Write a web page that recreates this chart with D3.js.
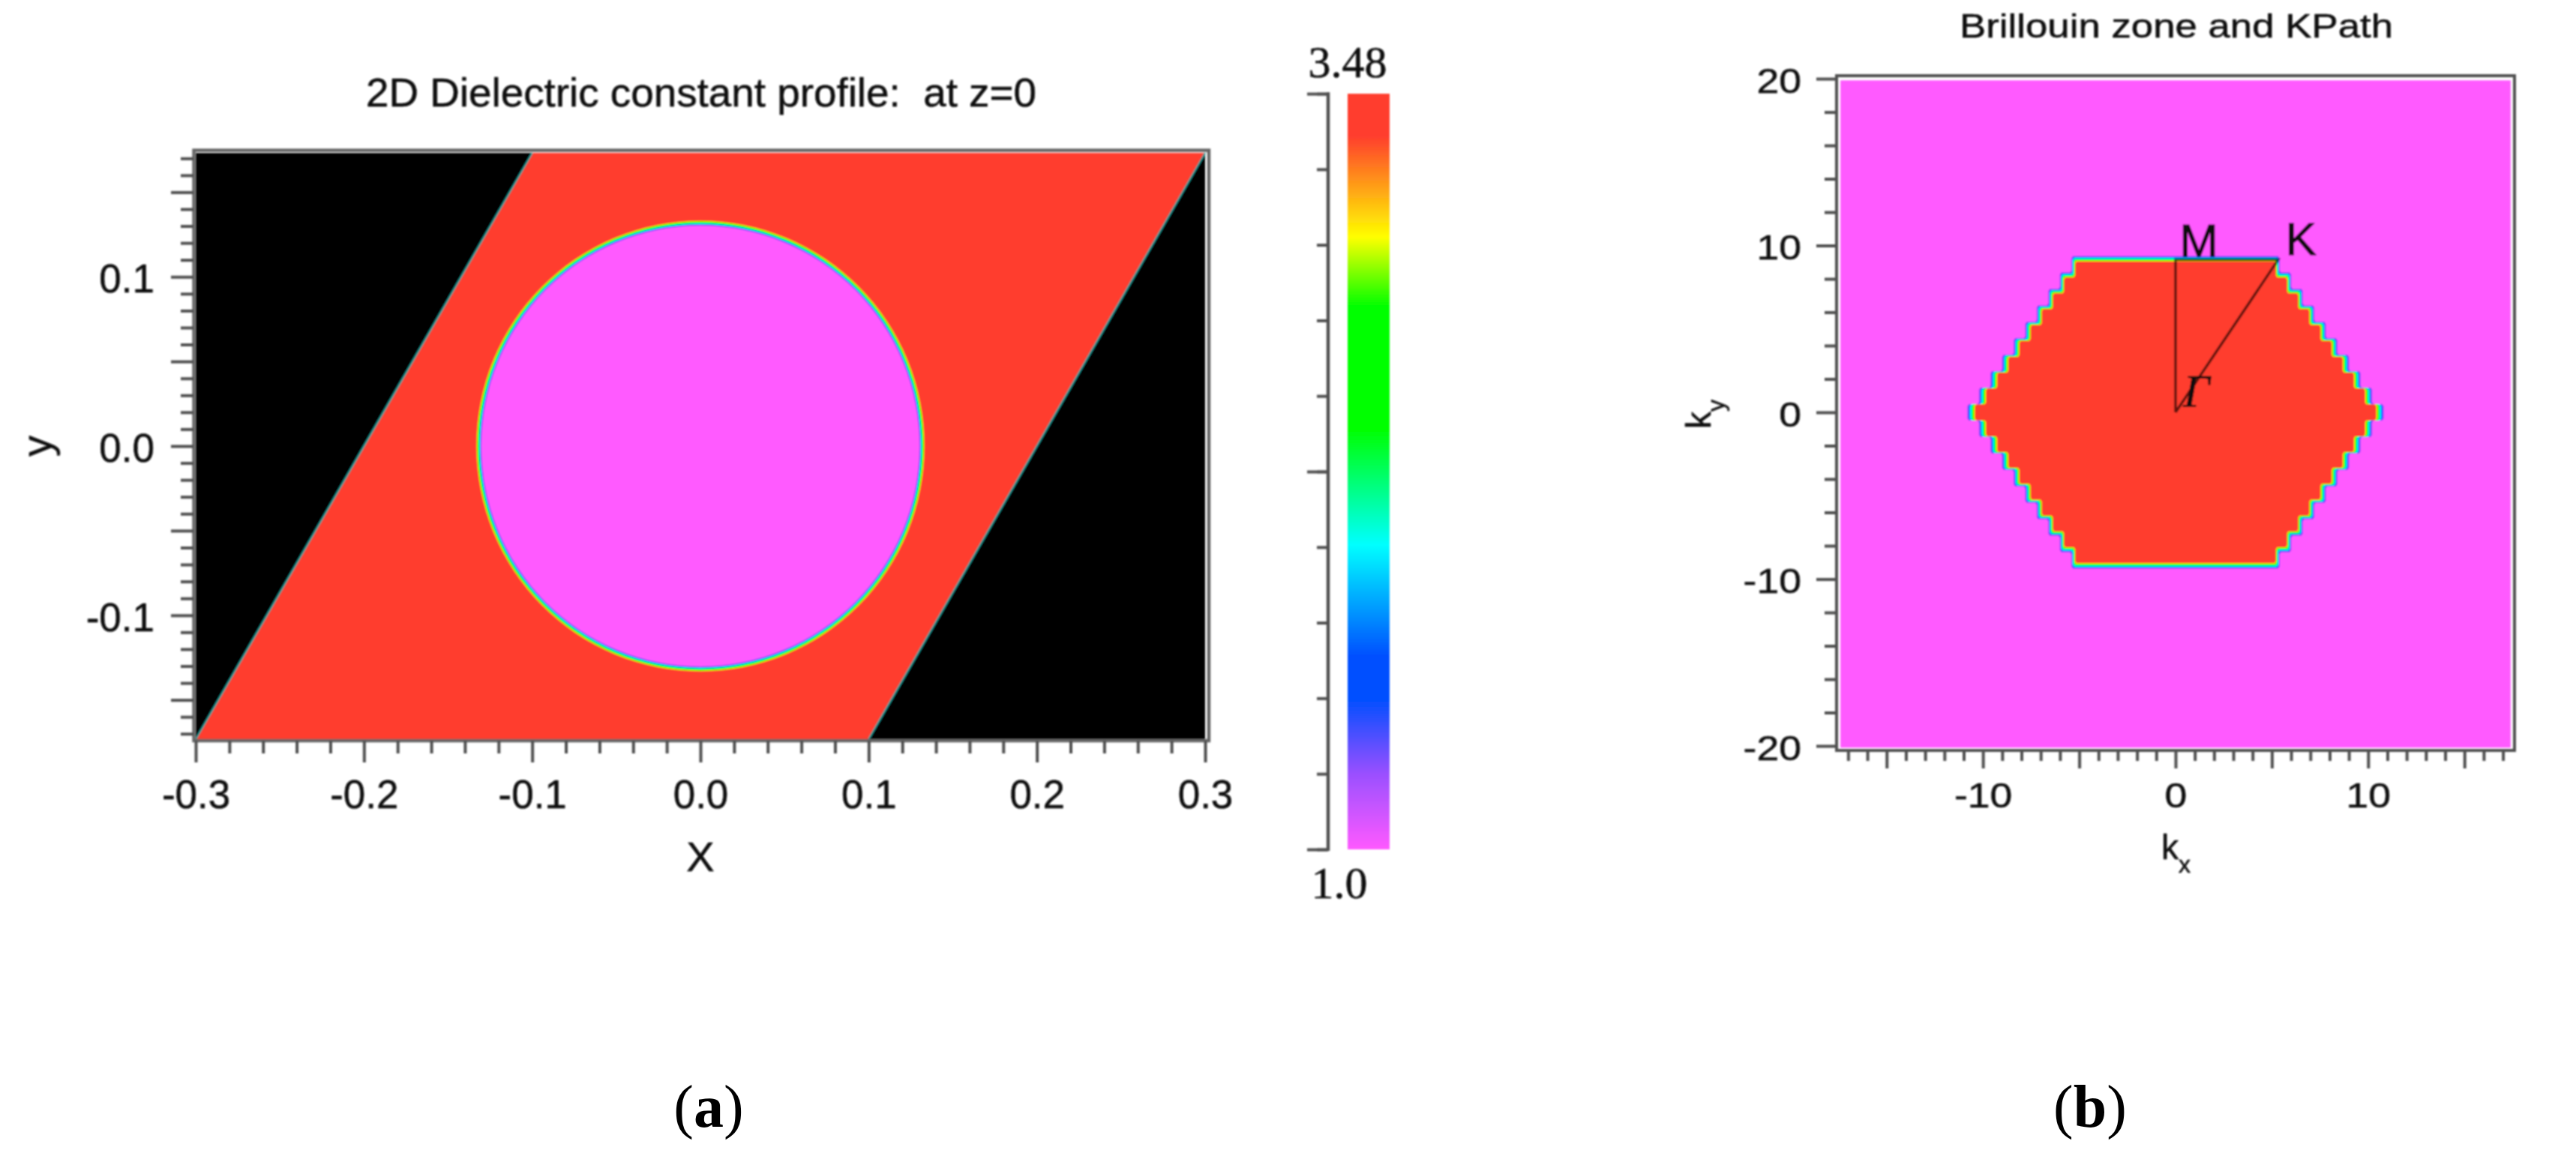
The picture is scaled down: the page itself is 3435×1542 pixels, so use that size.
<!DOCTYPE html>
<html><head><meta charset="utf-8">
<script src="https://cdn.jsdelivr.net/npm/d3@7"></script>
<style>
html,body{margin:0;padding:0;background:#fff}
svg{display:block}
text{font-family:"Liberation Sans",Arial,sans-serif;fill:#0c0c0c;white-space:pre;stroke:#0c0c0c;stroke-width:0.5px}
.serif{font-family:"Liberation Serif","Times New Roman",serif}
</style></head><body>
<svg id="c" width="3435" height="1542" viewBox="0 0 3435 1542"></svg>
<script>
// ---------- data ----------
const cbValues=[3.48,3.344,3.009,2.781,2.381,2.0,1.635,1.496,1.248,1.0];
const cbColors=["#ff3c2e","#ff3c2e","#ffff00","#00ff00","#00ff00","#00ffff","#0050ff","#0050ff","#9a50ff","#ff5aff"];
const cbTicks=[1.0,1.248,1.496,1.744,1.992,2.24,2.488,2.736,2.984,3.232,3.48];
const cbMajor=[1.0,2.24,3.48];
const edgeEps=[1.25,1.5,1.65,2.0,2.4,2.8,3.05,3.3];

const profX=[-0.3,0.3], profY=[-0.1732,0.1732];
const holeRadius=0.132;
const cellLeft=[[-0.3,-0.1732],[-0.1,0.1732],[-0.3,0.1732]];
const cellRight=[[0.1,-0.1732],[0.3,0.1732],[0.3,-0.1732]];
const profXLabels=[-0.3,-0.2,-0.1,0,0.1,0.2,0.3];
const profXMinor=[-0.28,-0.26,-0.24,-0.22,-0.18,-0.16,-0.14,-0.12,-0.08,-0.06,-0.04,-0.02,0.02,0.04,0.06,0.08,0.12,0.14,0.16,0.18,0.22,0.24,0.26,0.28];
const profYLabels=[-0.1,0,0.1];
const profYMajor=[-0.15,-0.1,-0.05,0,0.05,0.1,0.15];
const profYMinor=[-0.17,-0.16,-0.14,-0.13,-0.12,-0.11,-0.09,-0.08,-0.07,-0.06,-0.04,-0.03,-0.02,-0.01,0.01,0.02,0.03,0.04,0.06,0.07,0.08,0.09,0.11,0.12,0.13,0.14,0.16,0.17];

const bzX=[-17.6,17.6], bzY=[-20,20];
const bzFill=[[-17.4,-20.1],[17.4,19.9]];
const hexagon=[[-10.6,0],[-5.0,9.2],[5.0,9.2],[10.6,0],[5.0,-9.2],[-5.0,-9.2]];
const kPath=[[0,0],[0,9.15],[5.33,9.15],[0,0]];
const kLabels=[{t:"M",x:0.2,y:9.35},{t:"K",x:5.7,y:9.45}];
const bzXLabels=[-10,0,10];
const bzXMajor=[-15,-10,-5,0,5,10,15];
const bzXMinor=[-17,-16,-14,-13,-12,-11,-9,-8,-7,-6,-4,-3,-2,-1,1,2,3,4,6,7,8,9,11,12,13,14,16,17];
const bzYLabels=[-20,-10,0,10,20];
const bzYMinor=[-18,-16,-14,-12,-8,-6,-4,-2,2,4,6,8,12,14,16,18];

// ---------- set up ----------
const svg=d3.select("#c");
const defs=svg.append("defs");
const blur=defs.append("filter").attr("id","soft").attr("filterUnits","userSpaceOnUse")
  .attr("x",0).attr("y",0).attr("width",3435).attr("height",1542);
blur.append("feGaussianBlur").attr("stdDeviation",1.1);
const chart=svg.append("g").attr("filter","url(#soft)");
const tickColor="#505050";
const eps=d3.scaleLinear().domain(cbValues).range(cbColors);

function axisStyle(g,sw){
  g.select(".domain").remove();
  g.selectAll("line").attr("stroke",tickColor).attr("stroke-width",sw);
}
function stretch(sel,k){
  sel.each(function(){this.setAttribute("textLength",this.getComputedTextLength()*k);
    this.setAttribute("lengthAdjust","spacingAndGlyphs");});
}
function fitText(parent,str,x0,x1,baseline,size){
  return parent.append("text").attr("x",x0).attr("y",baseline).attr("font-size",size)
    .attr("textLength",x1-x0).attr("lengthAdjust","spacingAndGlyphs").text(str);
}
function xAxis(parent,scale,y,vals,len,fmt,size,base,k){
  const g=parent.append("g").attr("transform",`translate(0,${y})`)
    .call(d3.axisBottom(scale).tickValues(vals).tickSize(len).tickFormat(fmt||""));
  axisStyle(g,4);
  if(fmt){const t=g.selectAll("text").attr("font-size",size).attr("y",base).attr("dy",0)
      .attr("fill","#0c0c0c");stretch(t,k);}
  return g;
}
function yAxis(parent,scale,x,vals,len,fmt,size,base,right,k){
  const g=parent.append("g").attr("transform",`translate(${x},0)`)
    .call(d3.axisLeft(scale).tickValues(vals).tickSize(len).tickFormat(fmt||""));
  axisStyle(g,4);
  if(fmt){const t=g.selectAll("text").attr("font-size",size).attr("x",right).attr("dy",base)
      .attr("fill","#0c0c0c");stretch(t,k);}
  return g;
}

// ---------- panel (a) ----------
const ax=d3.scaleLinear().domain(profX).range([261,1607]);
const ay=d3.scaleLinear().domain(profY).range([986,204]);
const a=chart.append("g");
a.append("rect").attr("x",ax(profX[0])).attr("y",ay(profY[1]))
  .attr("width",ax(profX[1])-ax(profX[0])).attr("height",ay(profY[0])-ay(profY[1]))
  .attr("fill",eps(3.48));
const tri=d3.line().x(d=>ax(d[0])).y(d=>ay(d[1]));
[cellLeft,cellRight].forEach(p=>{
  a.append("path").attr("d",tri(p)+"Z").attr("fill","#000").attr("stroke","none");
  a.append("path").attr("d",tri(p.slice(0,2))).attr("stroke","#1f9a96").attr("stroke-width",2.4).attr("fill","none");
});
const rOff=d3.scaleLinear().domain([1,3.48]).range([-4,3.6]);
const hole=edgeEps.slice().reverse().concat([1.0]);
a.selectAll("ellipse").data(hole).join("ellipse")
  .attr("cx",ax(0)).attr("cy",ay(0))
  .attr("rx",d=>ax(holeRadius)-ax(0)+rOff(d))
  .attr("ry",d=>ay(0)-ay(holeRadius)+rOff(d))
  .attr("fill",d=>eps(d));
a.append("rect").attr("x",258.5).attr("y",200.5).attr("width",1353.5).attr("height",787.5)
  .attr("fill","none").attr("stroke","#666").attr("stroke-width",4.5);
const f1=d=>d.toFixed(1);
xAxis(a,ax,988,profXMinor,17);
xAxis(a,ax,988,profXLabels,29,f1,54,90,0.98);
yAxis(a,ay,258,profYMinor,17);
yAxis(a,ay,258,profYMajor,30);
yAxis(a,ay,206,profYLabels,0,f1,53,"0.39em",0,1);
fitText(a,"2D Dielectric constant profile:  at z=0",488,1382,142,53);
a.append("text").attr("x",ax(0)).attr("y",1162).attr("text-anchor","middle").attr("font-size",56).text("X");
a.append("text").attr("transform",`translate(68,${ay(0)}) rotate(-90)`).attr("text-anchor","middle").attr("font-size",56).text("y");

// ---------- colour bar ----------
const cb=d3.scaleLinear().domain([1.0,3.48]).range([1133,125]);
const grad=defs.append("linearGradient").attr("id","cbGrad").attr("x1",0).attr("x2",0).attr("y1",0).attr("y2",1);
grad.selectAll("stop").data(cbValues).join("stop")
  .attr("offset",d=>(cb(d)-cb(3.48))/(cb(1.0)-cb(3.48))).attr("stop-color",d=>eps(d));
const bar=chart.append("g");
bar.append("rect").attr("x",1797).attr("y",cb(3.48)).attr("width",56).attr("height",cb(1.0)-cb(3.48)).attr("fill","url(#cbGrad)");
yAxis(bar,cb,1771,cbTicks,15);
yAxis(bar,cb,1771,cbMajor,28);
bar.append("line").attr("x1",1771).attr("x2",1771).attr("y1",cb(3.48)-2).attr("y2",cb(1.0)+2).attr("stroke",tickColor).attr("stroke-width",4.5);
bar.append("text").attr("class","serif").attr("x",1797).attr("y",103).attr("text-anchor","middle").attr("font-size",60).text("3.48");
bar.append("text").attr("class","serif").attr("x",1786).attr("y",1198).attr("text-anchor","middle").attr("font-size",60).text("1.0");

// ---------- panel (b) ----------
const bx=d3.scaleLinear().domain(bzX).range([2449,3353]);
const by=d3.scaleLinear().domain(bzY).range([995,105]);
const b=chart.append("g");
b.append("rect").attr("x",bx(bzFill[0][0])).attr("y",by(bzFill[1][1]))
  .attr("width",bx(bzFill[1][0])-bx(bzFill[0][0])).attr("height",by(bzFill[0][1])-by(bzFill[1][1]))
  .attr("fill",eps(1.0));

// hexagon rasterised on a coarse k-grid, which gives the stepped edge
const cellX=0.589,cellY=0.968,half=30,fine=4,size=half*2*fine;
const grid=new Float64Array(size*size);
for(let j=0;j<size;j++)for(let i=0;i<size;i++){
  const cx=(Math.floor(i/fine)-half+0.5)*cellX, cy=(Math.floor(j/fine)-half)*cellY;
  grid[j*size+i]=d3.polygonContains(hexagon,[cx,cy])?1:0;
}
const hexShape=d3.contours().size([size,size]).smooth(false).thresholds([0.5])(grid)[0];
const grow=d3.scaleLinear().domain([1,3.48]).range([1.024,0.98]);
const layer=k=>d3.geoPath(d3.geoTransform({point(px,py){
  this.stream.point(bx((px/fine-half)*cellX*k),by((py/fine-half-0.5)*cellY*k));
}}));
b.selectAll("path.hex").data(edgeEps.concat([3.48])).join("path").attr("class","hex")
  .attr("d",d=>layer(grow(d))(hexShape)).attr("fill",d=>eps(d));

const pathLine=d3.line().x(d=>bx(d[0])).y(d=>by(d[1]));
b.append("path").attr("d",pathLine(kPath)).attr("fill","none").attr("stroke","#000").attr("stroke-opacity",0.62).attr("stroke-width",3.6);

b.append("rect").attr("x",2449).attr("y",101).attr("width",904).attr("height",900)
  .attr("fill","none").attr("stroke",tickColor).attr("stroke-width",4);
const fInt=d=>String(d);
xAxis(b,bx,1001,bzXMinor,14);
xAxis(b,bx,1001,bzXMajor,24);
const xl=xAxis(b,bx,1001,bzXLabels,0,fInt,47,76,1.14);
xl.selectAll("line").remove();
yAxis(b,by,2449,bzYMinor,16);
yAxis(b,by,2449,bzYLabels,27);
yAxis(b,by,2402,bzYLabels,0,fInt,47,"0.39em",0,1.14);
fitText(b,"Brillouin zone and KPath",2613,3191,50,45);
const kx=b.append("text").attr("x",2882).attr("y",1146).attr("font-size",46);
kx.append("tspan").text("k");
kx.append("tspan").attr("dy",18).attr("font-size",32).text("x");
const ky=b.append("text").attr("transform","translate(2281,572) rotate(-90)").attr("font-size",46);
ky.append("tspan").text("k");
ky.append("tspan").attr("dy",18).attr("font-size",32).text("y");
b.selectAll("text.pt").data(kLabels).join("text").attr("class","pt")
  .attr("x",d=>bx(d.x)).attr("y",d=>by(d.y)).attr("font-size",62).style("stroke-width","1px").text(d=>d.t);
b.append("text").attr("class","serif").attr("x",bx(0.4)).attr("y",by(0.35)).attr("font-size",62).attr("font-style","italic").text("Γ");

// ---------- captions ----------
function caption(cx,letter){
  const t=svg.append("text").attr("class","serif").attr("x",cx).attr("y",1503).attr("text-anchor","middle").attr("font-size",80).style("fill","#000").style("stroke","none");
  t.append("tspan").text("(");
  t.append("tspan").attr("font-weight","bold").text(letter);
  t.append("tspan").text(")");
}
caption(945,"a");
caption(2787,"b");
</script></body></html>
